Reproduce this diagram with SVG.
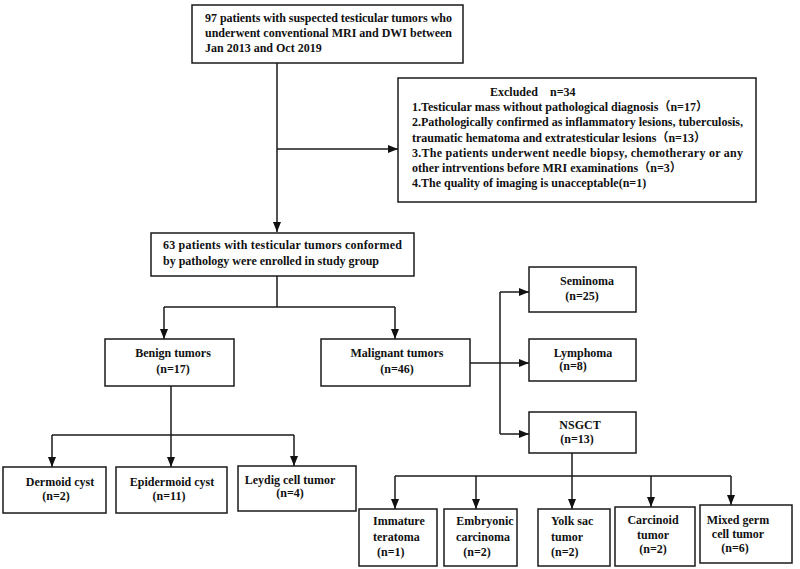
<svg xmlns="http://www.w3.org/2000/svg" width="800" height="569" viewBox="0 0 800 569">
<style>
rect.b{fill:#fff;stroke:#1a1a1a;stroke-width:1.5}
text{font-family:"Liberation Serif","Noto Sans CJK SC",serif;font-weight:bold;font-size:12px;fill:#111}
.c{text-anchor:middle}
.ln{fill:none;stroke:#1a1a1a;stroke-width:1.5}
</style>
<defs>
<marker id="ah" viewBox="0 0 10 8" refX="10" refY="4" markerWidth="10" markerHeight="8" orient="auto" markerUnits="userSpaceOnUse">
<path d="M0,0 L10,4 L0,8 z" fill="#111"/>
</marker>
</defs>
<rect width="800" height="569" fill="#fff"/>
<g id="connectors">
<path class="ln" d="M277,63 V232" marker-end="url(#ah)"/>
<path class="ln" d="M277,149 H398" marker-end="url(#ah)"/>
<path class="ln" d="M277,276 V307"/>
<path class="ln" d="M164,307 H395"/>
<path class="ln" d="M164,307 V339" marker-end="url(#ah)"/>
<path class="ln" d="M395,307 V339" marker-end="url(#ah)"/>
<path class="ln" d="M171,386 V435"/>
<path class="ln" d="M52,435 H294"/>
<path class="ln" d="M52,435 V467" marker-end="url(#ah)"/>
<path class="ln" d="M171,435 V467" marker-end="url(#ah)"/>
<path class="ln" d="M294,435 V466" marker-end="url(#ah)"/>
<path class="ln" d="M470,363 H529" marker-end="url(#ah)"/>
<path class="ln" d="M500,292 V434"/>
<path class="ln" d="M500,292 H529" marker-end="url(#ah)"/>
<path class="ln" d="M500,434 H529" marker-end="url(#ah)"/>
<path class="ln" d="M572,453 V476"/>
<path class="ln" d="M395,476 H731"/>
<path class="ln" d="M395,476 V509" marker-end="url(#ah)"/>
<path class="ln" d="M476,476 V509" marker-end="url(#ah)"/>
<path class="ln" d="M572,476 V509" marker-end="url(#ah)"/>
<path class="ln" d="M651,476 V507" marker-end="url(#ah)"/>
<path class="ln" d="M731,476 V505" marker-end="url(#ah)"/>
</g>
<g id="n-start">
<rect class="b" x="192" y="5" width="271" height="58"/>
<text x="205" y="22" textLength="247" lengthAdjust="spacing">97 patients with suspected testicular tumors who</text>
<text x="205" y="37" textLength="247" lengthAdjust="spacing">underwent conventional MRI and DWI between</text>
<text x="205" y="52">Jan 2013 and Oct 2019</text>
</g>
<g id="n-excluded">
<rect class="b" x="398" y="78" width="358" height="124"/>
<text x="490" y="96" xml:space="preserve">Excluded    n=34</text>
<text x="412" y="111">1.Testicular mass without pathological diagnosis（n=17）</text>
<text x="412" y="126" textLength="331" lengthAdjust="spacing">2.Pathologically confirmed as inflammatory lesions, tuberculosis,</text>
<text x="412" y="142">traumatic hematoma and extratesticular lesions（n=13）</text>
<text x="412" y="157" textLength="331" lengthAdjust="spacing">3.The patients underwent needle biopsy, chemotherary or any</text>
<text x="412" y="172">other intrventions before MRI examinations（n=3）</text>
<text x="412" y="187">4.The quality of imaging is unacceptable(n=1)</text>
</g>
<g id="n-study">
<rect class="b" x="151" y="233" width="263" height="43"/>
<text x="163" y="249" textLength="239" lengthAdjust="spacing">63 patients with testicular tumors conformed</text>
<text x="163" y="265">by pathology were enrolled in study group</text>
</g>
<g id="n-benign">
<rect class="b" x="105" y="339" width="129" height="47"/>
<text class="c" x="173" y="357">Benign tumors</text>
<text class="c" x="173" y="373">(n=17)</text>
</g>
<g id="n-malignant">
<rect class="b" x="321" y="339" width="149" height="47"/>
<text class="c" x="397" y="357">Malignant tumors</text>
<text class="c" x="397" y="373">(n=46)</text>
</g>
<g id="n-seminoma">
<rect class="b" x="529" y="267" width="107" height="45"/>
<text class="c" x="587" y="285">Seminoma</text>
<text class="c" x="582" y="300">(n=25)</text>
</g>
<g id="n-lymphoma">
<rect class="b" x="529" y="339" width="107" height="42"/>
<text class="c" x="583" y="357">Lymphoma</text>
<text class="c" x="573" y="370">(n=8)</text>
</g>
<g id="n-nsgct">
<rect class="b" x="529" y="412" width="107" height="41"/>
<text class="c" x="580" y="429">NSGCT</text>
<text class="c" x="577" y="443">(n=13)</text>
</g>
<g id="n-dermoid">
<rect class="b" x="3" y="467" width="103" height="46"/>
<text class="c" x="60" y="486">Dermoid  cyst</text>
<text class="c" x="56" y="500">(n=2)</text>
</g>
<g id="n-epidermoid">
<rect class="b" x="116" y="467" width="111" height="46"/>
<text class="c" x="172" y="486">Epidermoid  cyst</text>
<text class="c" x="169" y="500">(n=11)</text>
</g>
<g id="n-leydig">
<rect class="b" x="238" y="466" width="118" height="45"/>
<text class="c" x="290" y="484">Leydig cell tumor</text>
<text class="c" x="290" y="497">(n=4)</text>
</g>
<g id="n-immature">
<rect class="b" x="359" y="509" width="78" height="57"/>
<text x="373" y="525">Immature</text>
<text x="373" y="541">teratoma</text>
<text x="377" y="556">(n=1)</text>
</g>
<g id="n-embryonic">
<rect class="b" x="444" y="509" width="73" height="57"/>
<text class="c" x="485" y="525">Embryonic</text>
<text class="c" x="483" y="541">carcinoma</text>
<text class="c" x="477" y="556">(n=2)</text>
</g>
<g id="n-yolk">
<rect class="b" x="538" y="509" width="72" height="57"/>
<text x="551" y="525">Yolk sac</text>
<text x="551" y="541">tumor</text>
<text x="551" y="556">(n=2)</text>
</g>
<g id="n-carcinoid">
<rect class="b" x="615" y="507" width="80" height="59"/>
<text class="c" x="653" y="524">Carcinoid</text>
<text class="c" x="653" y="539">tumor</text>
<text class="c" x="653" y="553">(n=2)</text>
</g>
<g id="n-mixed">
<rect class="b" x="700" y="505" width="92" height="58"/>
<text class="c" x="738" y="524">Mixed germ</text>
<text class="c" x="738" y="538">cell tumor</text>
<text class="c" x="735" y="552">(n=6)</text>
</g>
</svg>
